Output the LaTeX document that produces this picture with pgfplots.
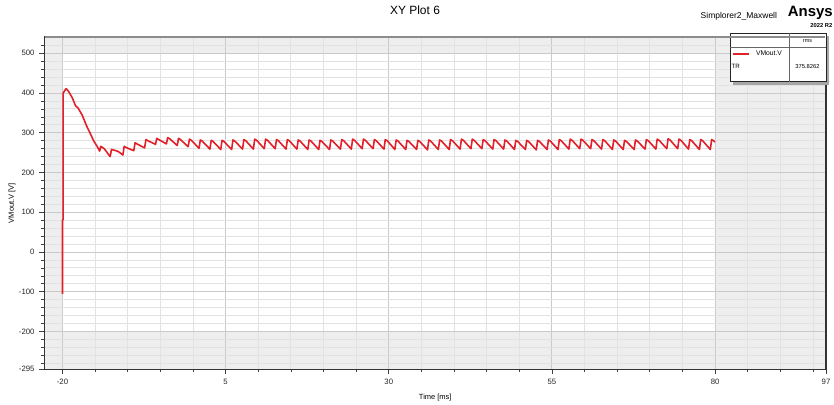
\documentclass[border=0pt]{standalone}
\usepackage{fontspec}
\setmainfont{Liberation Sans}
\usepackage{pgfplots}
\pgfplotsset{compat=1.18}

\definecolor{trace}{RGB}{226,32,42}
\definecolor{gridmaj}{RGB}{202,202,202}
\definecolor{gridmin}{RGB}{226,226,226}
\definecolor{bgshade}{RGB}{238,238,238}

% VMout.V transient, time in ms
\pgfplotstableread{
t v
-20.00 -105
-20.00 80
-19.90 82
-19.90 400
-19.70 405
-19.45 411
-19.10 405
-18.50 388
-18.00 368
-17.60 362
-17.00 345
-16.30 317
-15.80 300
-15.20 279
-14.70 266
-14.30 254
-14.15 266
-13.60 260
-12.70 240
-12.50 258
-11.60 254
-11.20 250
-10.75 244
-10.55 266
-10.25 263
-9.08 255
-8.88 275
-8.58 272
-7.42 262
-7.22 283
-6.92 280
-5.75 271
-5.55 286
-5.25 283
-4.08 272
-3.88 288
-3.58 285
-2.42 268
-2.22 286
-1.92 283
-0.75 265
-0.55 284
-0.25 281
0.92 261
1.12 282
1.42 279
2.59 259
2.79 281
3.09 278
4.25 258
4.45 281
4.75 278
5.92 258
6.12 282
6.42 279
7.59 259
7.79 283
8.09 280
9.25 259
9.45 284
9.75 281
10.92 260
11.12 284
11.42 281
12.59 260
12.79 283
13.09 280
14.26 259
14.46 283
14.76 280
15.92 259
16.12 282
16.42 279
17.59 258
17.79 282
18.09 279
19.26 258
19.46 281
19.76 278
20.92 258
21.12 282
21.42 279
22.59 259
22.79 283
23.09 280
24.26 259
24.46 284
24.76 281
25.92 260
26.12 284
26.42 281
27.59 260
27.79 283
28.09 280
29.26 259
29.46 283
29.76 280
30.93 258
31.13 282
31.43 279
32.59 258
32.79 281
33.09 278
34.26 258
34.46 281
34.76 278
35.93 257
36.13 282
36.43 279
37.59 258
37.79 282
38.09 279
39.26 258
39.46 283
39.76 280
40.93 259
41.13 284
41.43 281
42.59 260
42.79 284
43.09 281
44.26 260
44.46 283
44.76 280
45.93 259
46.13 283
46.43 280
47.60 259
47.80 282
48.10 279
49.26 258
49.46 281
49.76 278
50.93 258
51.13 281
51.43 278
52.60 257
52.80 281
53.10 278
54.26 258
54.46 282
54.76 279
55.93 258
56.13 283
56.43 280
57.60 259
57.80 284
58.10 281
59.26 260
59.46 284
59.76 281
60.93 260
61.13 283
61.43 280
62.60 259
62.80 283
63.10 280
64.27 258
64.47 282
64.77 279
65.93 258
66.13 281
66.43 278
67.60 258
67.80 282
68.10 279
69.27 259
69.47 283
69.77 280
70.93 259
71.13 284
71.43 281
72.60 260
72.80 285
73.10 282
74.27 260
74.47 284
74.77 281
75.93 259
76.13 283
76.43 280
77.60 258
77.80 283
78.10 280
79.27 258
79.47 283
79.77 280
80.00 277
}\vmout

\begin{document}
\begin{tikzpicture}[x=1bp,y=1bp]
\begin{axis}[
  scale only axis, width=781.5bp, height=332.3bp,
  set layers,
  xmin=-22.76, xmax=97, ymin=-295, ymax=541,
  xtick={-20,5,30,55,80,97},
  minor xtick={-15,-10,-5,0,10,15,20,25,35,40,45,50,60,65,70,75,85,90,95},
  ytick={-295,-200,-100,0,100,200,300,400,500},
  minor ytick={-280,-260,-240,-220,-180,-160,-140,-120,-80,-60,-40,-20,20,40,60,80,120,140,160,180,220,240,260,280,320,340,360,380,420,440,460,480,520},
  xtick pos=bottom, ytick pos=left,
  grid=both,
  major grid style={draw=gridmaj, line width=0.9bp},
  minor grid style={draw=gridmin, line width=0.9bp},
  tick align=outside,
  major tick length=5bp, minor tick length=3bp,
  tick style={draw=black!75, line width=0.7bp},
  axis line style={draw=black!80, line width=1.1bp},
  /pgf/number format/assume math mode=true,
  ticklabel style={font=\fontsize{7.8}{8}\selectfont, text=black!85},
  yticklabel style={xshift=-1.5bp},
  xticklabel style={yshift=-1.5bp},
  xlabel={Time [ms]}, ylabel={VMout.V [V]},
  label style={font=\fontsize{7.5}{8}\selectfont},
  xlabel style={at={(axis description cs:0.5,-0.0864)}, anchor=center},
  ylabel style={at={(axis description cs:-0.0416,0.5)}, anchor=center},
]
\begin{pgfonlayer}{axis background}
\fill[bgshade] (axis cs:-22.76,-295) rectangle (axis cs:97,541);
\fill[white] (axis cs:-20,-200) rectangle (axis cs:80,500);
\end{pgfonlayer}
\addplot[trace, line width=1.6bp, line join=round, mark=none] table[x=t, y=v] {\vmout};
\begin{pgfonlayer}{axis foreground}
\draw[black!45, line width=1.2bp] (rel axis cs:0.001,1) -- (rel axis cs:0.999,1);
\end{pgfonlayer}
\end{axis}

\begin{scope}[shift={(-44.5,-34.7)}]
% title and header
\node[font=\fontsize{12}{13}\selectfont] at (415,394) {XY Plot 6};
\node[font=\fontsize{8.5}{10}\selectfont, anchor=east] at (780.5,388) {Simplorer2\_Maxwell};
\node[font=\fontsize{15}{16}\selectfont\bfseries, anchor=east, inner sep=0pt] at (833,391) {Ansys};
\node[font=\fontsize{5.8}{6}\selectfont\bfseries, anchor=east, inner sep=0pt] at (832.5,378) {2022 R2};

% legend table
\fill[black!35] (733,319.3) rectangle (829,367.7);
\filldraw[fill=white, draw=black!85, line width=0.9bp] (730,322.3) rectangle (826,370.7);
\draw[black!60, line width=0.5bp] (730,356.3) -- (826,356.3);
\draw[black!60, line width=0.5bp] (789,322.3) -- (789,370.7);
\node[font=\fontsize{5.5}{6}\selectfont] at (807.5,363) {rms};
\draw[trace, line width=1.4bp] (732.5,350) -- (749,350);
\node[font=\fontsize{6.8}{7}\selectfont] at (769,350.5) {VMout.V};
\node[font=\fontsize{6.2}{7}\selectfont, anchor=west, inner sep=0pt] at (731.5,337.3) {TR};
\node[font=\fontsize{5.8}{6}\selectfont] at (807.5,337.3) {375.8262};

\pgfresetboundingbox
\path[use as bounding box] (0,0) rectangle (834,404);
\end{scope}
\end{tikzpicture}
\end{document}
